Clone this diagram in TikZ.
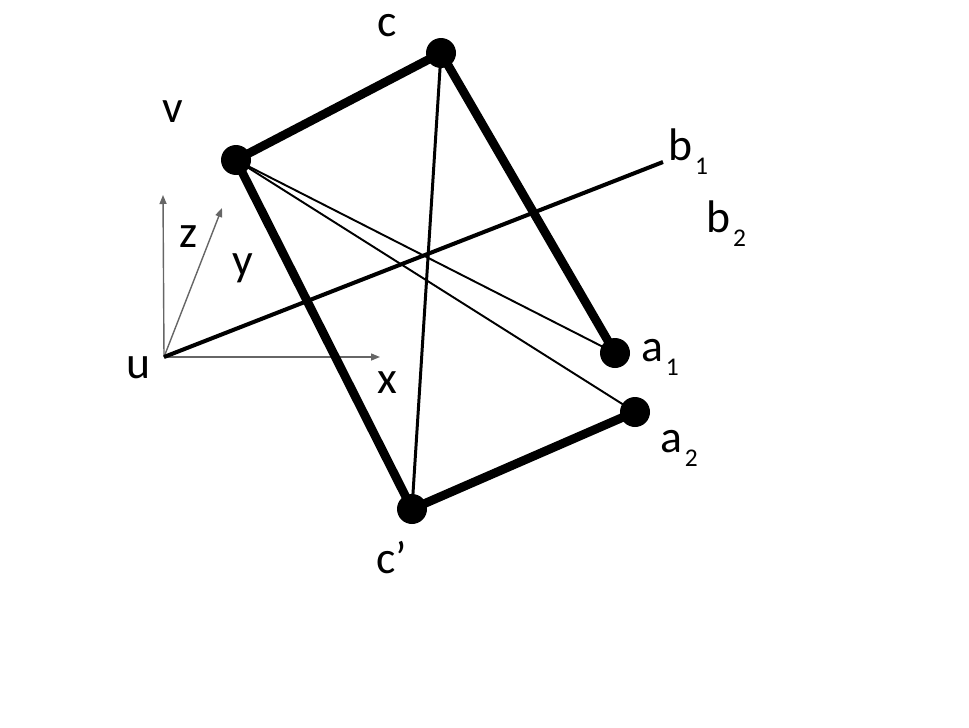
\documentclass[tikz,border=0pt]{standalone}
\usepackage{fontspec}
\setmainfont{Carlito}
\usepackage{tikz}
\usetikzlibrary{positioning, arrows.meta, backgrounds}

\newcommand{\lsub}[1]{\hspace{0.06em}\raisebox{-8pt}{\fontsize{14.5}{15}\selectfont #1}}

\begin{document}
\begin{tikzpicture}[x=0.02cm, y=-0.02cm,
    dot/.style={circle, fill=black, inner sep=0pt, minimum size=6mm},
    lbl/.style={anchor=base west, inner sep=0pt, font=\fontsize{26}{30}\selectfont},
    edge/.style={line width=5pt},
    chord/.style={line width=1.1pt},
    axis/.style={draw=black!60, line width=0.8pt, -{Triangle[length=1.8mm, width=1.4mm]}}]
    \useasboundingbox (0,0) rectangle (969,727);

    \node[dot] (c) at (441,53) {};
    \node[dot] (v) at (236,160) {};
    \node[dot] (a1) at (615,353) {};
    \node[dot] (a2) at (635,412) {};
    \node[dot] (cp) at (412,509) {};

    \coordinate (u) at (164,357);
    \coordinate (b) at (663,162);
    \coordinate (xend) at (380,357);
    \coordinate (zend) at (163,195);
    \coordinate (yend) at (222,208);

    \node[lbl] (clbl) at (377,36) {c};
    \node[lbl] (vlbl) at (162,122) {v};
    \node[lbl] (b1lbl) at (668,160) {b\lsub{1}};
    \node[lbl] (b2lbl) at (706,232) {b\lsub{2}};
    \node[lbl] (a1lbl) at (641,361) {a\lsub{1}};
    \node[lbl] (a2lbl) at (660,452) {a\lsub{2}};
    \node[lbl] (cplbl) at (376,573) {c'};
    \node[lbl] (ulbl) at (126,378) {u};
    \node[lbl] (xlbl) at (377,393) {x};
    \node[lbl] (zlbl) at (179,247) {z};
    \node[lbl] (ylbl) at (232,275) {y};

    \begin{scope}[on background layer]
    % axes at u
    \draw[axis] (u) -- (xend);
    \draw[axis] (u) -- (zend);
    \draw[axis] (u) -- (yend);
    \draw[line width=2.3pt] (u) -- (b);

    \draw[edge] (v.center) -- (c.center) -- (a1.center);
    \draw[edge] (v.center) -- (cp.center) -- (a2.center);
    \draw[line width=1.7pt] (c.center) -- (cp.center);
    \draw[chord] (v.center) -- (a1.center);
    \draw[chord] (v.center) -- (a2.center);
    \end{scope}

\end{tikzpicture}
\end{document}
